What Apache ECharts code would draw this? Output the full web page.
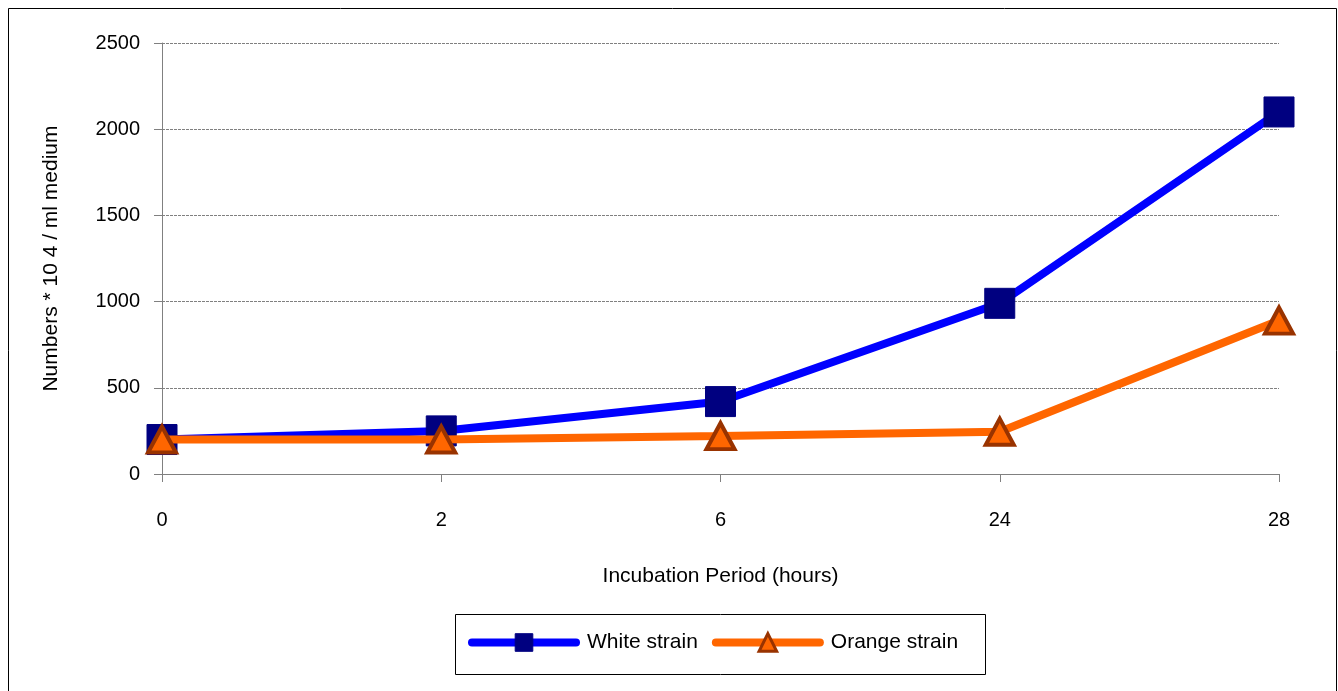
<!DOCTYPE html>
<html><head><meta charset="utf-8">
<script src="https://cdn.jsdelivr.net/npm/echarts@6/dist/echarts.min.js"></script>
<style>html,body{margin:0;padding:0;background:#fff}#c{width:1338px;height:691px}</style>
</head><body><div id="c"></div>
<script>
const categories = ['0', '2', '6', '24', '28'];
const whiteStrain = [200, 250, 420, 990, 2100];
const orangeStrain = [200, 200, 220, 245, 890];
const seriesNames = ['White strain', 'Orange strain'];
const xTitle = 'Incubation Period (hours)';
const yTitle = 'Numbers * 10 4 / ml medium';

const font = '"Liberation Sans", Arial, sans-serif';
const chart = echarts.init(document.getElementById('c'), null, {renderer: 'canvas'});
chart.setOption({
  backgroundColor: '#fff',
  animation: false,
  textStyle: {fontFamily: font},
  graphic: [
    {type: 'rect', shape: {x: 8.5, y: 8.5, width: 1328, height: 700}, style: {fill: 'none', stroke: '#000', lineWidth: 1}, silent: true},
    {type: 'rect', shape: {x: 455.5, y: 614.5, width: 530, height: 60}, style: {fill: '#fff', stroke: '#000', lineWidth: 1}, silent: true, z: -1}
  ],
  grid: {left: 162, right: 59, top: 43, bottom: 217},
  legend: {
    left: 463, top: 627,
    itemWidth: 104, itemHeight: 22, itemGap: 14,
    lineStyle: {width: 8, cap: 'round'},
    textStyle: {fontFamily: font, fontSize: 21, color: '#000', padding: [0, 0, 0, 6]},
    data: [
      {name: seriesNames[0], itemStyle: {borderWidth: 1}},
      {name: seriesNames[1], itemStyle: {borderWidth: 3}}
    ]
  },
  xAxis: {
    type: 'category', data: categories, boundaryGap: false,
    name: xTitle, nameLocation: 'middle', nameGap: 92,
    nameTextStyle: {fontFamily: font, fontSize: 21, color: '#000'},
    axisLine: {lineStyle: {color: '#808080', width: 1}},
    axisTick: {show: true, length: 8, lineStyle: {color: '#808080'}},
    axisLabel: {margin: 36, fontSize: 20, color: '#000', fontFamily: font},
    splitLine: {show: false}
  },
  yAxis: {
    type: 'value', min: 0, max: 2500, interval: 500,
    name: yTitle, nameLocation: 'middle', nameGap: 100, nameRotate: 90,
    nameTextStyle: {fontFamily: font, fontSize: 21, color: '#000'},
    axisLine: {show: true, lineStyle: {color: '#808080', width: 1}},
    axisTick: {show: true, length: 8, lineStyle: {color: '#808080'}},
    axisLabel: {margin: 22, fontSize: 20, color: '#000', fontFamily: font, formatter: v => String(v)},
    splitLine: {show: true, lineStyle: {color: '#808080', type: [3, 1], width: 1}}
  },
  series: [
    {
      name: seriesNames[0], type: 'line', data: whiteStrain,
      symbol: 'rect', symbolSize: 30,
      lineStyle: {color: '#0000FF', width: 8},
      itemStyle: {color: '#000080', borderColor: '#000080', borderWidth: 1},
      z: 2
    },
    {
      name: seriesNames[1], type: 'line', data: orangeStrain,
      symbol: 'triangle', symbolSize: [28, 26],
      lineStyle: {color: '#FF6600', width: 8},
      itemStyle: {color: '#FF6600', borderColor: '#993300', borderWidth: 4},
      z: 3
    }
  ]
});
</script></body></html>
